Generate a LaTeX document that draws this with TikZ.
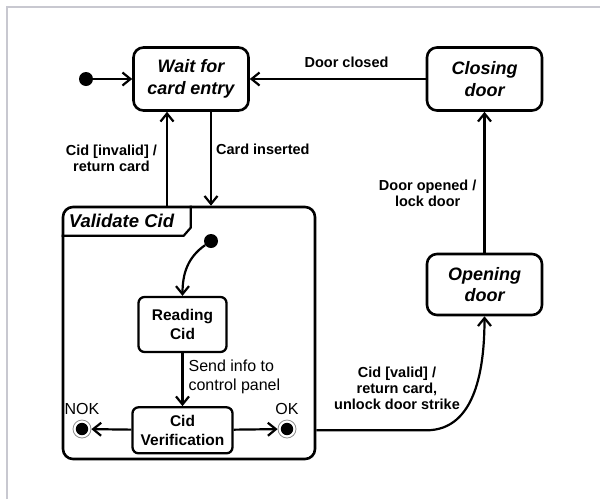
\documentclass[tikz,border=0pt]{standalone}
\usepackage{fontspec}
\setmainfont{Liberation Sans}
\usetikzlibrary{arrows.meta,positioning,calc}
\definecolor{cFrame}{RGB}{200,200,208}

\begin{document}
\begin{tikzpicture}[
  x=1pt, y=-1pt,
  >={Straight Barb[length=8pt,width=13pt]},
  state/.style={
    draw, line width=2.6pt, rounded corners=10pt,
    minimum width=115pt, minimum height=63pt, inner sep=0pt,
    align=center, font=\fontsize{18}{21.5}\selectfont\bfseries\itshape
  },
  substate/.style={
    draw, line width=2.3pt, rounded corners=6pt, inner sep=0pt,
    align=center, font=\fontsize{15.5}{19}\selectfont\bfseries
  },
  trans/.style={->, line width=2.2pt},
  lbl/.style={align=center, inner sep=0pt, font=\fontsize{14.5}{16}\selectfont\bfseries},
  note/.style={align=left, inner sep=0pt, font=\fontsize{16}{19}\selectfont},
  initdot/.style={circle, fill, inner sep=0pt, minimum size=14pt},
  finaldot/.style={
    circle, draw=black!45, line width=0.8pt, inner sep=0pt, minimum size=18pt,
    path picture={\fill (path picture bounding box.center) circle (6.2pt);}
  }
]
\useasboundingbox (0,0) rectangle (600,499);

% Frame
\draw[cFrame, line width=2pt] (7,499) -- (7,7) -- (600,7);

% Top level states
\node[initdot] (init) at (86,79) {};
\node[state] (wait) at (191,79) {Wait for\\card entry};
\node[state] (closing) at (484.5,79) {Closing\\door};
\node[state, minimum height=61pt] (opening) at (484.5,284.5) {Opening\\door};

% Composite state
\node[draw, line width=2.6pt, rounded corners=10pt,
  minimum width=252pt, minimum height=252pt] (validate) at (189,333) {};
\draw[line width=2.2pt] ($(validate.north west)+(0,30)$) -- ++(122,0) -- ++(7,-8)
  -- ($(validate.north west)+(129,0)$);
\node[anchor=west, inner sep=0pt, font=\fontsize{18.5}{22}\selectfont\bfseries\itshape]
  (vtitle) at ($(validate.north west)+(7,15.5)$) {Validate Cid};

\node[initdot] (vinit) at (211,241) {};
\node[substate, minimum width=88pt, minimum height=55pt] (reading) at (182.5,324.5) {Reading\\Cid};
\node[substate, minimum width=100pt, minimum height=46pt, below=53pt of reading] (verif) {Cid\\Verification};
\node[finaldot] (nok) at (82,429) {};
\node[finaldot] (ok) at (287,429) {};
\node[note, above=5pt of nok] {NOK};
\node[note, above=5pt of ok] {OK};

% Transitions
\coordinate (upx) at (167,0);
\coordinate (downx) at (211,0);
\draw[trans] (init) -- (wait);
\draw[trans] (closing) -- node[lbl, pos=0.45, above=10pt] {Door closed} (wait);
\draw[trans] (validate.north -| upx) -- node[lbl, midway, left=9pt] {Cid [invalid] /\\return card} (wait.south -| upx);
\draw[trans] (wait.south -| downx) -- node[lbl, pos=0.4, right=4pt] {Card inserted} (validate.north -| downx);
\draw[trans] (opening) -- node[lbl, pos=0.42, left=7pt] {Door opened /\\lock door} (closing);
\draw[trans] (validate.east |- verif) -- ++(110,0) to[out=0, in=-90] (opening.south);
\node[lbl] (validlbl) at (397,388) {Cid [valid] /\\return card,\\unlock door strike};

\draw[trans] (vinit) to[out=215, in=90] (reading.north);
\draw[trans] (reading) -- node[note, pos=0.45, right=5pt] {Send info to\\control panel} (verif);
\draw[trans] (verif) -- (nok);
\draw[trans] (verif) -- (ok);

\end{tikzpicture}
\end{document}
